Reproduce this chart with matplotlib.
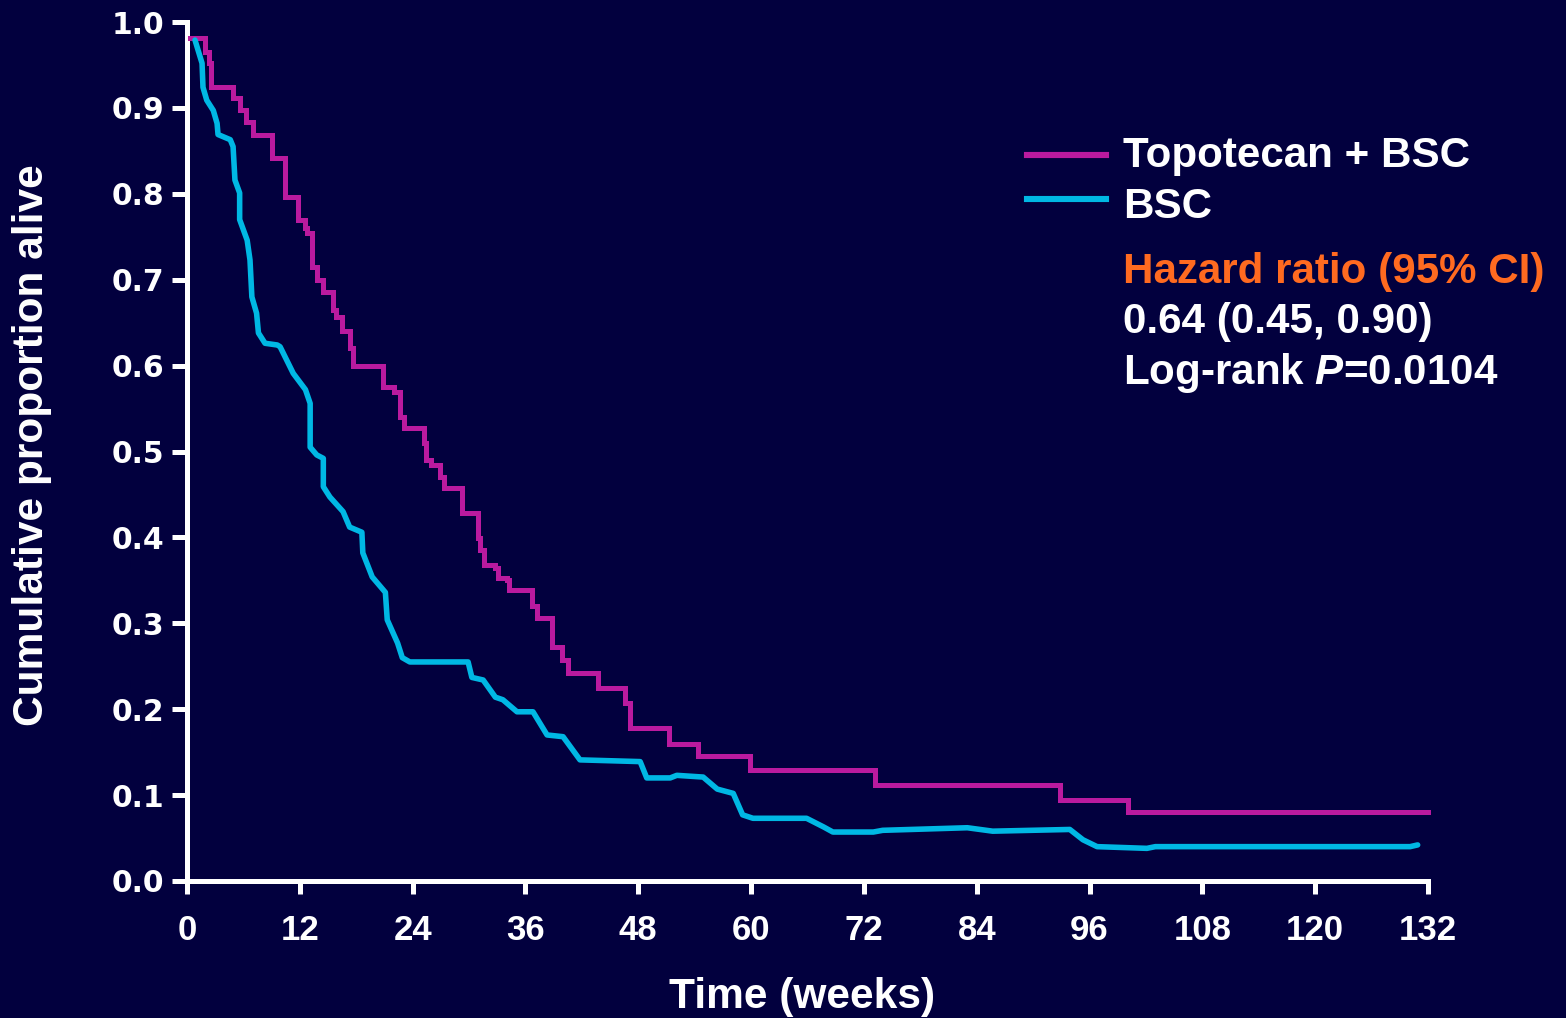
import matplotlib
matplotlib.use("Agg")
import matplotlib.pyplot as plt
from matplotlib.lines import Line2D

# Kaplan-Meier survival, Topotecan + BSC (step times in weeks, survival after each step)
topo_weeks = [0.3, 1.9, 2.3, 2.6, 4.9, 5.6, 6.3, 7.0, 9.0, 10.4, 11.8, 12.5, 12.8,
              13.3, 13.8, 14.5, 15.5, 15.8, 16.5, 17.3, 17.7, 20.8, 22.0, 22.7,
              23.1, 25.2, 25.4, 26.0, 26.9, 27.3, 29.2, 30.9, 31.2, 31.6, 32.8,
              33.1, 34.0, 34.3, 36.7, 37.2, 38.8, 39.9, 40.5, 43.7, 46.6, 47.1,
              51.3, 54.4, 59.9, 73.2, 92.9, 100.1, 132.0]
topo_surv = [0.981, 0.965, 0.952, 0.924, 0.911, 0.897, 0.884, 0.869, 0.842, 0.796,
             0.770, 0.760, 0.754, 0.715, 0.700, 0.686, 0.665, 0.657, 0.640, 0.620,
             0.600, 0.575, 0.569, 0.540, 0.527, 0.510, 0.490, 0.484, 0.470, 0.457,
             0.428, 0.399, 0.385, 0.368, 0.364, 0.353, 0.350, 0.339, 0.320, 0.306,
             0.272, 0.257, 0.242, 0.225, 0.207, 0.178, 0.160, 0.145, 0.129, 0.112,
             0.094, 0.080, 0.080]

# Survival trace, BSC alone
bsc_weeks = [0.85, 1.6, 1.7, 2.1, 2.8, 3.2, 3.3, 4.6, 4.9, 5.1, 5.6, 5.6, 6.4, 6.7,
             6.9, 7.4, 7.6, 8.3, 9.6, 9.9, 11.3, 12.6, 13.1, 13.1, 13.8, 14.5,
             14.5, 15.2, 16.6, 17.3, 18.6, 18.7, 19.7, 21.1, 21.3, 22.4, 22.9,
             23.7, 29.9, 30.3, 31.5, 32.8, 33.6, 35.1, 36.8, 38.3, 40.0, 41.8,
             48.2, 48.9, 51.4, 52.1, 54.9, 56.4, 58.1, 59.1, 60.2, 65.9, 67.7,
             68.7, 73.0, 74.0, 83.0, 85.7, 93.9, 95.3, 96.8, 102.1, 103.0, 130.1,
             130.9]
bsc_surv = [0.979, 0.952, 0.924, 0.909, 0.897, 0.882, 0.869, 0.863, 0.855, 0.816,
            0.801, 0.770, 0.746, 0.723, 0.680, 0.661, 0.638, 0.626, 0.624, 0.622,
            0.591, 0.572, 0.556, 0.505, 0.496, 0.492, 0.459, 0.447, 0.430, 0.412,
            0.406, 0.382, 0.354, 0.336, 0.304, 0.277, 0.260, 0.255, 0.255, 0.237,
            0.234, 0.214, 0.211, 0.197, 0.197, 0.170, 0.168, 0.141, 0.139, 0.120,
            0.120, 0.123, 0.121, 0.107, 0.102, 0.077, 0.073, 0.073, 0.063, 0.057,
            0.057, 0.059, 0.062, 0.058, 0.060, 0.048, 0.040, 0.038, 0.040, 0.040,
            0.042]

x_ticks = [0, 12, 24, 36, 48, 60, 72, 84, 96, 108, 120, 132]
y_ticks = [0.0, 0.1, 0.2, 0.3, 0.4, 0.5, 0.6, 0.7, 0.8, 0.9, 1.0]

series_labels = ["Topotecan + BSC", "BSC"]
hr_title = "Hazard ratio (95% CI)"
hr_text = "0.64 (0.45, 0.90)"
p_text = r"Log-rank $P$=0.0104"

BG = "#02003E"
MAGENTA = "#BA1A9F"
CYAN = "#00B8E4"
ORANGE = "#FF6A20"
WHITE = "#FFFFFF"

plt.rcParams["font.family"] = ["Liberation Sans", "DejaVu Sans"]
plt.rcParams["font.weight"] = "bold"
plt.rcParams["mathtext.fontset"] = "custom"
plt.rcParams["mathtext.it"] = "Liberation Sans:italic:bold"
plt.rcParams["mathtext.rm"] = "Liberation Sans:bold"

W, H = 1566, 1018
fig = plt.figure(figsize=(W / 100, H / 100), dpi=100, facecolor=BG)
ax = fig.add_axes([187 / W, 1 - 881 / H, (1428 - 187) / W, (881 - 22) / H])
ax.set_facecolor(BG)

ax.plot(topo_weeks, topo_surv, drawstyle="steps-post", color=MAGENTA, lw=3.6,
        solid_joinstyle="miter", clip_on=False, zorder=3)
ax.plot(bsc_weeks, bsc_surv, color=CYAN, lw=4.0, solid_joinstyle="round",
        solid_capstyle="round", clip_on=False, zorder=3)

ax.set_xlim(0, 132)
ax.set_ylim(0, 1)
ax.set_xticks(x_ticks)
ax.set_xticklabels([str(t) for t in x_ticks], fontsize=25, fontweight="bold",
                   color=WHITE)
ax.set_yticks(y_ticks)
ax.set_yticklabels([f"{v:.1f}" for v in y_ticks], fontsize=21.5, fontweight="bold",
                   family="DejaVu Sans", color=WHITE)

for side in ("top", "right"):
    ax.spines[side].set_visible(False)
for side in ("left", "bottom"):
    ax.spines[side].set_color(WHITE)
    ax.spines[side].set_linewidth(3.6)
    ax.spines[side].set_capstyle("projecting")

ax.tick_params(axis="x", direction="out", length=9, width=3.6, color=WHITE, pad=15)
ax.tick_params(axis="y", direction="out", length=10.5, width=3.6, color=WHITE, pad=6)

fig.text(32 / W, 1 - 445 / H, "Cumulative proportion alive", rotation=90,
         ha="center", va="center", fontsize=30.6, fontweight="bold", color=WHITE)
fig.text(802 / W, 1 - 1008 / H, "Time (weeks)", ha="center", va="baseline",
         fontsize=30.6, fontweight="bold", color=WHITE)

# Legend keys and entries
for y_px, col, lab, base in ((155, MAGENTA, series_labels[0], 167),
                              (199, CYAN, series_labels[1], 218)):
    fig.add_artist(Line2D([1027 / W, 1106 / W], [1 - y_px / H, 1 - y_px / H],
                          transform=fig.transFigure, color=col, lw=4.4))
    fig.text(1123 / W, 1 - base / H, lab, ha="left", va="baseline",
             fontsize=30.3, fontweight="bold", color=WHITE)

fig.text(1123 / W, 1 - 283 / H, hr_title, ha="left", va="baseline",
         fontsize=30.3, fontweight="bold", color=ORANGE)
fig.text(1123 / W, 1 - 333 / H, hr_text, ha="left", va="baseline",
         fontsize=30.3, fontweight="bold", color=WHITE)
fig.text(1123 / W, 1 - 384 / H, p_text, ha="left", va="baseline",
         fontsize=30.3, fontweight="bold", color=WHITE)

fig.savefig("out.png", dpi=100, facecolor=BG)
